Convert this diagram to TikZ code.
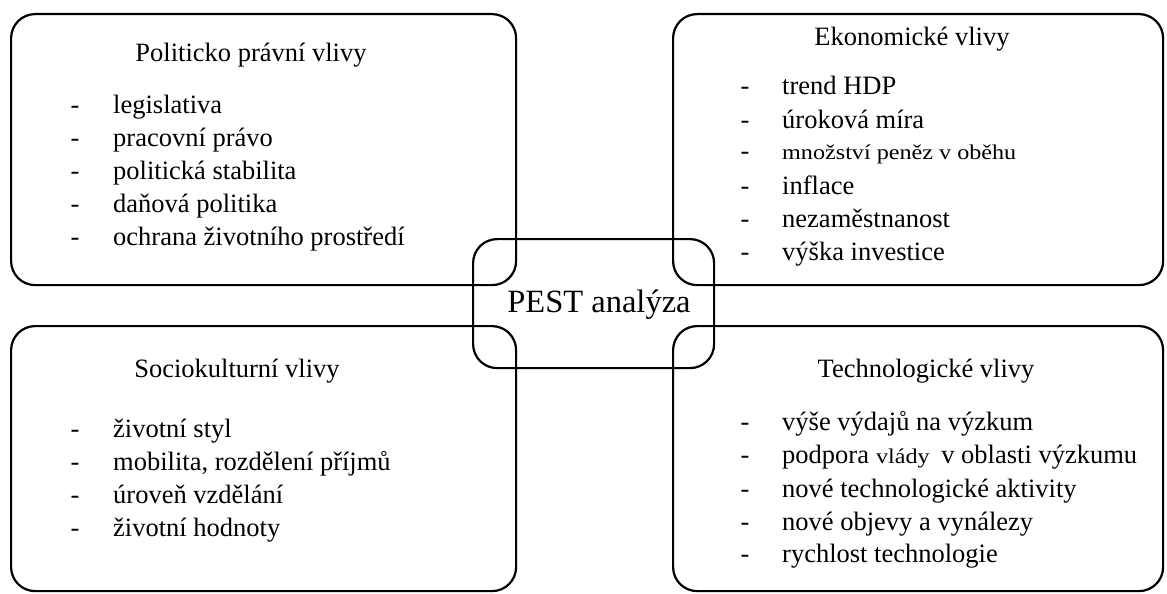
\documentclass[tikz,border=0pt]{standalone}
\usepackage{fontspec}
\setmainfont{Liberation Serif}
\newfontfamily\widefont[FakeStretch=1.15]{Liberation Serif}
\tikzset{
  box/.style={draw, line width=2.2pt, rounded corners=24pt, anchor=north west, inner sep=0pt},
  txt/.style={inner sep=0pt, font=\fontsize{26.5}{30}\selectfont},
  ttl/.style={txt, anchor=base},
  itm/.style={txt, anchor=base west},
  dsh/.style={txt, anchor=base},
}
\newcommand{\smallwide}{\widefont\fontsize{21}{24}\selectfont}
\begin{document}
\begin{tikzpicture}[x=1pt,y=-1pt]
\useasboundingbox (0,0) rectangle (1167,594);
% boxes
\node[box, minimum width=505pt, minimum height=271pt] (pol) at (10,13) {};
\node[box, minimum width=490pt, minimum height=271pt] (eko) at (672,13) {};
\node[box, minimum width=505pt, minimum height=265pt] (soc) at (10,325) {};
\node[box, minimum width=490pt, minimum height=265pt] (tech) at (672,325) {};
\node[box, minimum width=241pt, minimum height=129pt] (pest) at (472,238) {};
\node[inner sep=0pt, anchor=base, font=\fontsize{32.5}{36}\selectfont] (pestt) at (599,312) {PEST analýza};
% titles
\node[ttl] (polt) at (251,62) {Politicko právní vlivy};
\node[ttl] (ekot) at (912,46) {Ekonomické vlivy};
\node[ttl] (soct) at (237,377) {Sociokulturní vlivy};
\node[ttl] (techt) at (926,377) {Technologické vlivy};
% political items
\foreach \t/\y [count=\i] in {legislativa/113, pracovní právo/146, politická stabilita/179, daňová politika/212, ochrana životního prostředí/245}{
  \node[dsh] (pd\i) at (75,\y) {-};
  \node[itm] (pi\i) at (113,\y) {\t};
}
% economic items
\foreach \t/\y [count=\i] in {trend HDP/95, úroková míra/128, {\smallwide množství peněz v oběhu}/159, inflace/194, nezaměstnanost/227, výška investice/260}{
  \node[dsh] (ed\i) at (745,\y) {-};
  \node[itm] (ei\i) at (782,\y) {\t};
}
% socio items
\foreach \t/\y [count=\i] in {životní styl/437, {mobilita, rozdělení příjmů}/470, úroveň vzdělání/503, životní hodnoty/536}{
  \node[dsh] (sd\i) at (75,\y) {-};
  \node[itm] (si\i) at (113,\y) {\t};
}
% technology items
\foreach \t/\y [count=\i] in {výše výdajů na výzkum/430, {podpora\hspace{7pt}{\smallwide vlády}\hspace{5pt} v oblasti výzkumu}/463, nové technologické aktivity/497, nové objevy a vynálezy/530, rychlost technologie/562}{
  \node[dsh] (td\i) at (745,\y) {-};
  \node[itm] (ti\i) at (782,\y) {\t};
}
\end{tikzpicture}
\end{document}
